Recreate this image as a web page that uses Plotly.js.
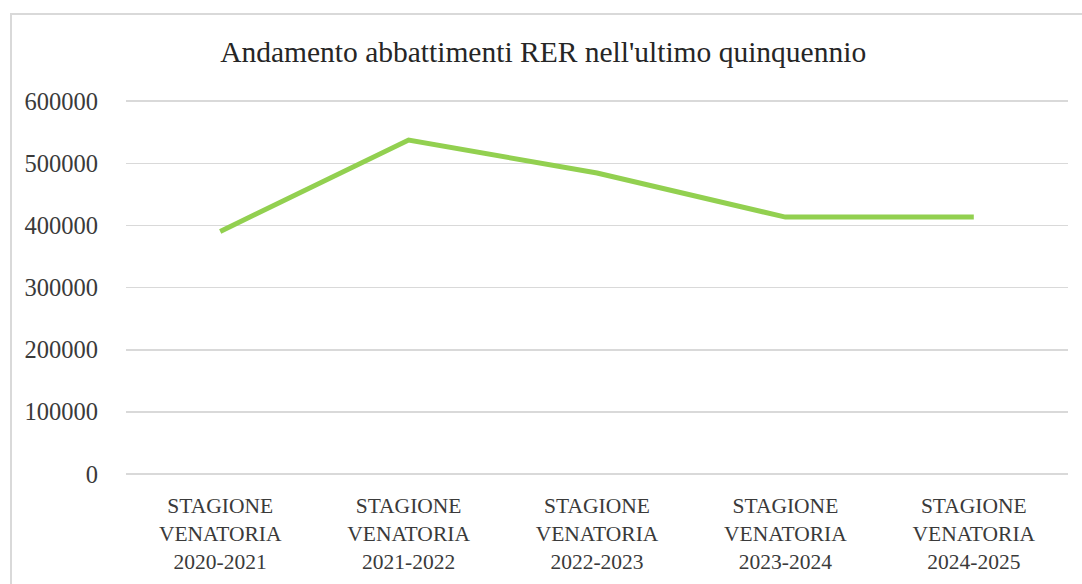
<!DOCTYPE html>
<html>
<head>
<meta charset="utf-8">
<script src="https://cdn.plot.ly/plotly-3.0.1.min.js"></script>
<style>
  html, body { margin: 0; padding: 0; background: #ffffff; overflow: hidden; }
  #frame { position: absolute; left: 10px; top: 13px; width: 1200px; height: 800px;
           border: 2px solid #d9d9d9; box-sizing: border-box; }
  #chart { position: absolute; left: 0; top: 0; width: 1082px; height: 584px; }
</style>
</head>
<body>
<div id="frame"></div>
<div id="chart"></div>
<script>
const categories = [
  "STAGIONE<br>VENATORIA<br>2020-2021",
  "STAGIONE<br>VENATORIA<br>2021-2022",
  "STAGIONE<br>VENATORIA<br>2022-2023",
  "STAGIONE<br>VENATORIA<br>2023-2024",
  "STAGIONE<br>VENATORIA<br>2024-2025"
];
const abbattimenti = [390500, 537500, 484500, 413500, 413500];
const chartTitle = "Andamento abbattimenti RER nell'ultimo quinquennio";
const yTicks = [0, 100000, 200000, 300000, 400000, 500000, 600000];

const fam = "Liberation Serif, serif";

const data = [{
  type: 'scatter',
  mode: 'lines',
  x: categories,
  y: abbattimenti,
  line: { color: '#92d050', width: 5, shape: 'linear' },
  hoverinfo: 'x+y'
}];

const layout = {
  width: 1082,
  height: 584,
  paper_bgcolor: 'rgba(0,0,0,0)',
  plot_bgcolor: 'rgba(0,0,0,0)',
  margin: { l: 126, r: 14, t: 100, b: 110 },
  showlegend: false,
  font: { family: fam, color: '#404040' },
  title: {
    text: chartTitle,
    font: { family: fam, size: 29.5, color: '#262626' },
    xref: 'container', x: 0.502, xanchor: 'center',
    yref: 'container', y: 1 - 52 / 584, yanchor: 'middle'
  },
  xaxis: {
    type: 'category',
    range: [-0.5, 4.5],
    showgrid: false,
    zeroline: false,
    showline: false,
    ticks: 'outside', ticklen: 12, tickcolor: 'rgba(0,0,0,0)',
    tickfont: { family: fam, size: 21.5, color: '#3a3a3a' },
    fixedrange: true
  },
  yaxis: {
    range: [0, 602000],
    tickvals: yTicks,
    ticktext: yTicks.map(v => String(v)),
    showgrid: true,
    gridcolor: '#d9d9d9',
    gridwidth: 1.5,
    zeroline: true,
    zerolinecolor: '#d9d9d9',
    zerolinewidth: 1.5,
    showline: false,
    ticks: 'outside', ticklen: 22, tickcolor: 'rgba(0,0,0,0)',
    tickfont: { family: fam, size: 24.5, color: '#3a3a3a' },
    fixedrange: true
  }
};

Plotly.newPlot('chart', data, layout, { displayModeBar: false, staticPlot: true });
</script>
</body>
</html>
